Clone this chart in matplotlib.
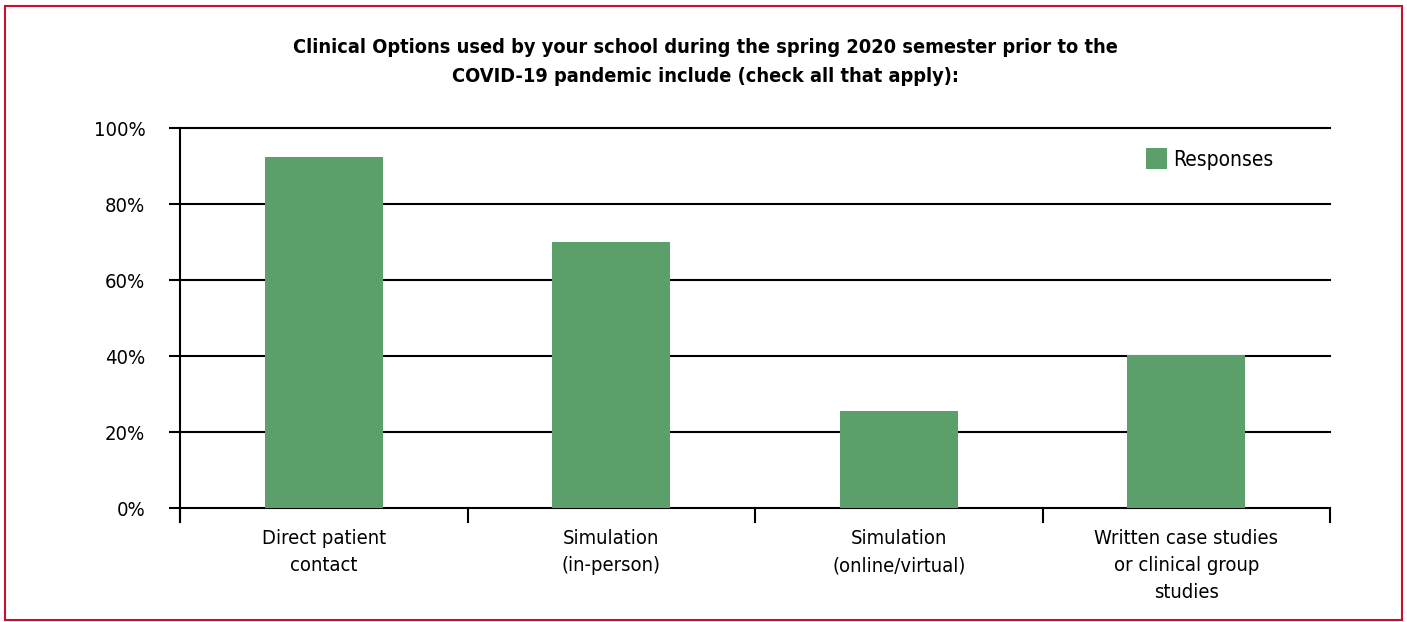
import matplotlib
matplotlib.use("Agg")
import matplotlib.pyplot as plt
from matplotlib.patches import Rectangle
import numpy as np

plt.rcParams['font.family'] = ['DejaVu Sans']
plt.rcParams['font.stretch'] = 'condensed'

categories = ["Direct patient\ncontact", "Simulation\n(in-person)",
              "Simulation\n(online/virtual)", "Written case studies\nor clinical group\nstudies"]
responses = [92.4, 70.0, 25.5, 40.2]
yticks = [0, 20, 40, 60, 80, 100]
ytick_labels = ["0%", "20%", "40%", "60%", "80%", "100%"]
title = ("Clinical Options used by your school during the spring 2020 semester prior to the\n"
         "COVID-19 pandemic include (check all that apply):")
green = "#5ba06a"

W, H = 1407, 622
fig = plt.figure(figsize=(W / 100, H / 100), dpi=100)
ax = fig.add_axes([180 / W, 1 - 508 / H, 1150 / W, 380 / H])

x = np.arange(len(categories))
ax.bar(x, responses, width=0.41, color=green, zorder=3, label="Responses")
ax.set_xlim(-0.5, len(categories) - 0.5)
ax.set_ylim(0, 100)

for v in yticks:
    ax.axhline(v, color="black", lw=1.5, zorder=2, clip_on=False)
ax.set_yticks(yticks)
ax.set_yticklabels(ytick_labels, fontsize=14.5)
ax.tick_params(axis='y', length=8, width=1.5, pad=17)

ax.set_xticks(x)
ax.set_xticklabels(categories, fontsize=14.5, linespacing=1.55)
ax.tick_params(axis='x', length=0, pad=15)
# category boundary ticks
for b in np.arange(-0.5, len(categories), 1.0):
    ax.plot([b, b], [0, -3.7], color="black", lw=1.5, clip_on=False, zorder=2)

for s in ["top", "right", "bottom"]:
    ax.spines[s].set_visible(False)
ax.spines["left"].set_linewidth(1.5)
ax.spines["left"].set_bounds(-3.7, 100)

ax.legend(loc="center right", bbox_to_anchor=(0.951, 0.918), frameon=False, fontsize=15,
          handlelength=1.0, handleheight=1.15, handletextpad=0.3,
          borderaxespad=0, borderpad=0)

fig.text(705 / W, 1 - 62 / H, title, ha="center", va="center", fontsize=14.35,
         fontweight="bold", linespacing=1.62)

fig.patches.append(Rectangle((5 / W, 2 / H), 1397 / W, 614 / H, transform=fig.transFigure,
                             fill=False, edgecolor="#c8102e", lw=1.5))

fig.savefig("out.png", dpi=100)
